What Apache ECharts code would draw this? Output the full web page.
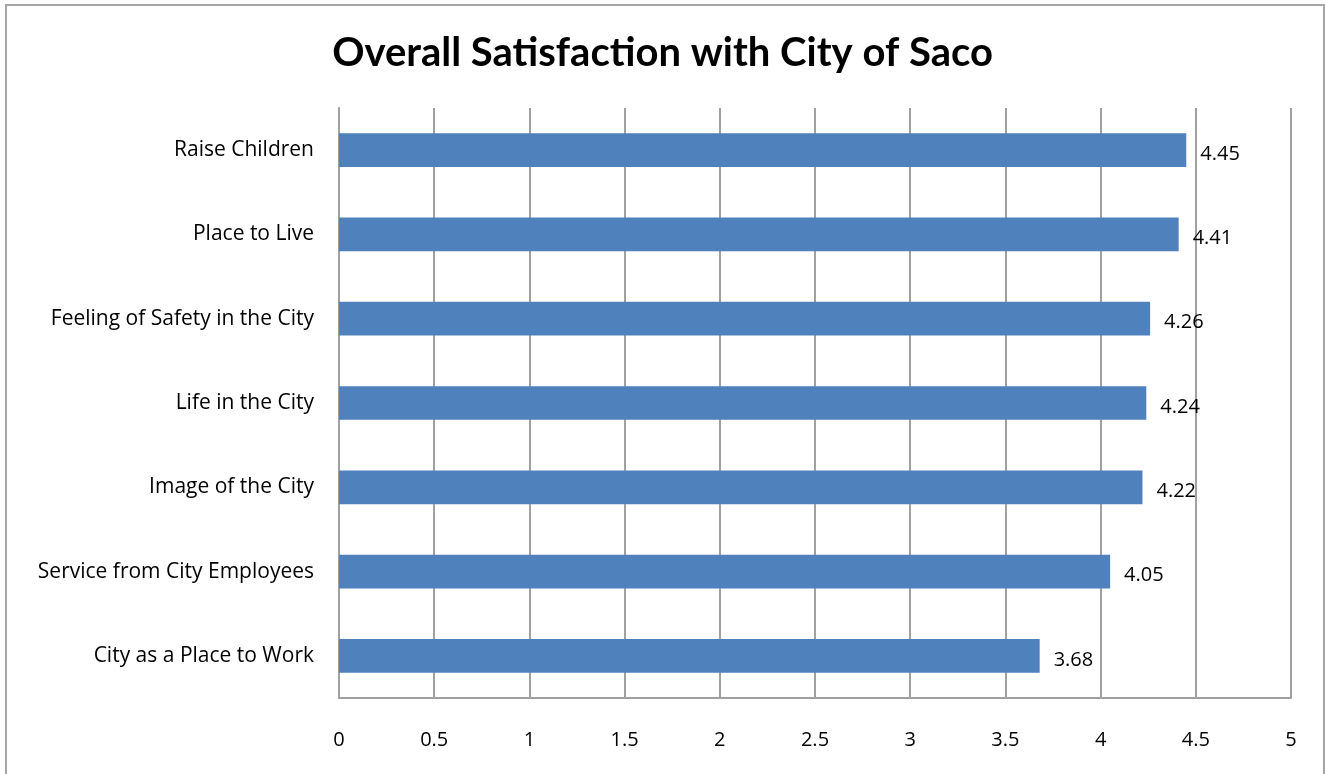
<!DOCTYPE html>
<html>
<head>
<meta charset="utf-8">
<script src="https://cdn.jsdelivr.net/npm/echarts@6/dist/echarts.min.js"></script>
<style>
html,body{margin:0;padding:0;background:#fff;}
#chart{width:1325px;height:774px;}
</style>
</head>
<body>
<div id="chart"></div>
<script>
const titleText = 'Overall Satisfaction with City of Saco';
const categories = ['City as a Place to Work','Service from City Employees','Image of the City','Life in the City','Feeling of Safety in the City','Place to Live','Raise Children'];
const values = [3.68, 4.05, 4.22, 4.24, 4.26, 4.41, 4.45];
const xTicks = [0, 0.5, 1, 1.5, 2, 2.5, 3, 3.5, 4, 4.5, 5];

const FONT = 'Open Sans';
const chart = echarts.init(document.getElementById('chart'));
chart.setOption({
  backgroundColor: '#fff',
  animation: false,
  title: {
    text: titleText,
    left: 'center',
    top: 28,
    textStyle: {fontFamily: 'Lato', fontWeight: 'bold', fontSize: 40, color: '#000'}
  },
  graphic: [{
    type: 'rect',
    shape: {x: 6, y: 5, width: 1318, height: 800},
    style: {fill: 'none', stroke: '#a6a6a6', lineWidth: 2},
    silent: true
  }],
  grid: {left: 339, right: 34, top: 108, bottom: 76, containLabel: false},
  xAxis: {
    type: 'value',
    min: xTicks[0],
    max: xTicks[xTicks.length - 1],
    interval: 0.5,
    axisLine: {show: true, lineStyle: {color: '#a0a0a0', width: 2}},
    axisTick: {show: false},
    splitLine: {show: true, lineStyle: {color: '#a0a0a0', width: 2}},
    axisLabel: {margin: 32, fontFamily: FONT, fontSize: 20, color: '#000',
      formatter: v => String(v)}
  },
  yAxis: {
    type: 'category',
    data: categories,
    axisLine: {show: true, lineStyle: {color: '#a0a0a0', width: 2}},
    axisTick: {show: false},
    axisLabel: {margin: 25, fontFamily: FONT, fontSize: 21, color: '#000', padding: [5, 0, 0, 0]}
  },
  series: [{
    type: 'bar',
    data: values,
    barCategoryGap: '60%',
    itemStyle: {color: '#4f81bd'},
    label: {show: true, position: 'right', distance: 14, offset: [0, 4], fontFamily: FONT, fontSize: 20, color: '#000',
      formatter: p => p.value.toFixed(2)}
  }]
});
</script>
</body>
</html>
